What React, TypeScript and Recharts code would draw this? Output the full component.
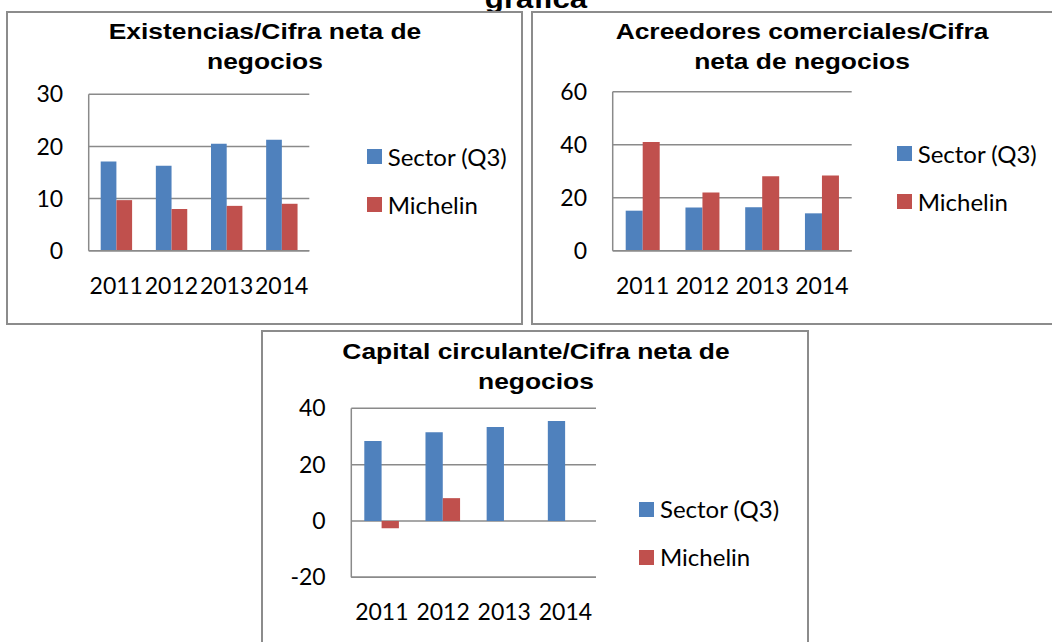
import React from "react";
import { BarChart, Bar, XAxis, YAxis, CartesianGrid, Legend } from "recharts";

// categorías y series
const years = ["2011", "2012", "2013", "2014"];
const seriesNames = ["Sector (Q3)", "Michelin"];

const existSector = [17.1, 16.3, 20.5, 21.3];
const existMichelin = [9.7, 8.0, 8.6, 9.0];
const existTicks = [0, 10, 20, 30];

const acreedSector = [15.1, 16.3, 16.4, 14.1];
const acreedMichelin = [41.0, 22.0, 28.1, 28.4];
const acreedTicks = [0, 20, 40, 60];

const capitalSector = [28.4, 31.5, 33.4, 35.5];
const capitalMichelin = [-2.6, 8.1, 0, 0];
const capitalTicks = [-20, 0, 20, 40];

const BLUE = "#4F81BD";
const RED = "#C0504D";
const GRID = "#8a8a8a";
const BORDER = "#8c8c8c";
const LABEL_FONT = "Lato, 'Open Sans', sans-serif";
const TITLE_FONT = "'Liberation Sans', Arial, sans-serif";

const buildRows = (sector: number[], michelin: number[]) =>
  years.map((y, i) => ({ year: y, sector: sector[i], michelin: michelin[i] }));

const LegendContent = (props: any) => {
  // mismo orden que las series
  const items = [...(props.payload || [])].sort(
    (a: any, b: any) => seriesNames.indexOf(a.value) - seriesNames.indexOf(b.value)
  );
  return (
    <div style={{ fontFamily: LABEL_FONT, fontSize: 24, color: "#000" }}>
      {items.map((it: any) => (
        <div
          key={it.value}
          style={{ display: "flex", alignItems: "center", height: 48, lineHeight: "48px", whiteSpace: "nowrap" }}
        >
          <span style={{ width: 15, height: 15, background: it.color, display: "inline-block", marginRight: 6 }} />
          <span>{it.value}</span>
        </div>
      ))}
    </div>
  );
};

interface PanelProps {
  lines: string[];
  titleX: number; // centre of title
  titleTop: number;
  box: { left: number; top: number; width: number; height: number };
  pos: { left: number; top: number; width: number; height: number };
  margin: { top: number; right: number; bottom: number };
  yWidth: number;
  xHeight: number;
  xTickMargin: number;
  yTickMargin: number;
  barSize: number;
  domain: [number, number];
  ticks: number[];
  legendPos: { left: number; top: number };
  rows: any[];
}

const Panel: React.FC<PanelProps> = (p) => {
  const axisStyle = { stroke: GRID, strokeWidth: 1.5 };
  return (
    <>
      <div
        style={{
          position: "absolute",
          left: p.box.left,
          top: p.box.top,
          width: p.box.width,
          height: p.box.height,
          border: `2px solid ${BORDER}`,
          boxSizing: "border-box",
        }}
      />
      <div
        style={{
          position: "absolute",
          left: p.titleX - 300,
          width: 600,
          top: p.titleTop,
          textAlign: "center",
          fontFamily: TITLE_FONT,
          fontWeight: "bold",
          fontSize: 22,
          lineHeight: "30px",
          transform: "scaleX(1.2)",
          color: "#000",
        }}
      >
        {p.lines.map((l) => (
          <div key={l}>{l}</div>
        ))}
      </div>
      <div style={{ position: "absolute", left: p.pos.left, top: p.pos.top }}>
        <BarChart
          width={p.pos.width}
          height={p.pos.height}
          data={p.rows}
          margin={{ top: p.margin.top, right: p.margin.right, bottom: p.margin.bottom, left: 0 }}
          barGap={0}
          barSize={p.barSize}
        >
          <CartesianGrid vertical={false} stroke={GRID} strokeWidth={1.5} />
          <XAxis
            dataKey="year"
            interval={0}
            tickLine={false}
            axisLine={axisStyle}
            height={p.xHeight}
            tickMargin={p.xTickMargin}
            tick={{ fill: "#000", fontSize: 23, fontFamily: LABEL_FONT }}
          />
          <YAxis
            domain={p.domain}
            ticks={p.ticks}
            interval={0}
            tickLine={false}
            axisLine={axisStyle}
            width={p.yWidth}
            tickMargin={p.yTickMargin}
            tick={{ fill: "#000", fontSize: 23, fontFamily: LABEL_FONT }}
          />
          <Legend
            layout="vertical"
            align="center"
            verticalAlign="middle"
            wrapperStyle={{ left: p.legendPos.left, top: p.legendPos.top, width: 200 }}
            content={LegendContent}
          />
          <Bar dataKey="sector" name={seriesNames[0]} fill={BLUE} isAnimationActive={false} />
          <Bar dataKey="michelin" name={seriesNames[1]} fill={RED} isAnimationActive={false} />
        </BarChart>
      </div>
    </>
  );
};

export default function App() {
  return (
    <div
      style={{
        position: "absolute",
        left: 0,
        top: 0,
        width: 1052,
        height: 642,
        overflow: "hidden",
        background: "#fff",
      }}
    >
      {/* título del documento, cortado arriba */}
      <div
        style={{
          position: "absolute",
          left: 236,
          width: 600,
          top: -15.6,
          textAlign: "center",
          fontFamily: TITLE_FONT,
          fontWeight: "bold",
          fontSize: 26,
          lineHeight: "30px",
          transform: "scaleX(1.2)",
        }}
      >
        gráfica
      </div>

      <Panel
        lines={["Existencias/Cifra neta de", "negocios"]}
        titleX={265}
        titleTop={17.3}
        box={{ left: 6, top: 11, width: 517, height: 314 }}
        pos={{ left: 8, top: 12, width: 514, height: 312 }}
        margin={{ top: 82.3, right: 212.7, bottom: 23.3 }}
        yWidth={80.7}
        xHeight={50}
        xTickMargin={21.3}
        yTickMargin={19.5}
        barSize={15.7}
        domain={[0, 30]}
        ticks={existTicks}
        legendPos={{ left: 358.7, top: 120.5 }}
        rows={buildRows(existSector, existMichelin)}
      />

      <Panel
        lines={["Acreedores comerciales/Cifra", "neta de negocios"]}
        titleX={801.7}
        titleTop={17.3}
        box={{ left: 531, top: 11, width: 560, height: 314 }}
        pos={{ left: 532, top: 12, width: 520, height: 312 }}
        margin={{ top: 79.7, right: 200.3, bottom: 23.3 }}
        yWidth={80.7}
        xHeight={50}
        xTickMargin={21.3}
        yTickMargin={19.7}
        barSize={17}
        domain={[0, 60]}
        ticks={acreedTicks}
        legendPos={{ left: 364.7, top: 117.6 }}
        rows={buildRows(acreedSector, acreedMichelin)}
      />

      <Panel
        lines={["Capital circulante/Cifra neta de", "negocios"]}
        titleX={536}
        titleTop={337.3}
        box={{ left: 261, top: 330, width: 548, height: 400 }}
        pos={{ left: 262, top: 331, width: 546, height: 311 }}
        margin={{ top: 77.3, right: 212, bottom: 14.7 }}
        yWidth={89.3}
        xHeight={50}
        xTickMargin={20.4}
        yTickMargin={19.6}
        barSize={17.3}
        domain={[-20, 40]}
        ticks={capitalTicks}
        legendPos={{ left: 377, top: 154 }}
        rows={buildRows(capitalSector, capitalMichelin)}
      />
    </div>
  );
}
